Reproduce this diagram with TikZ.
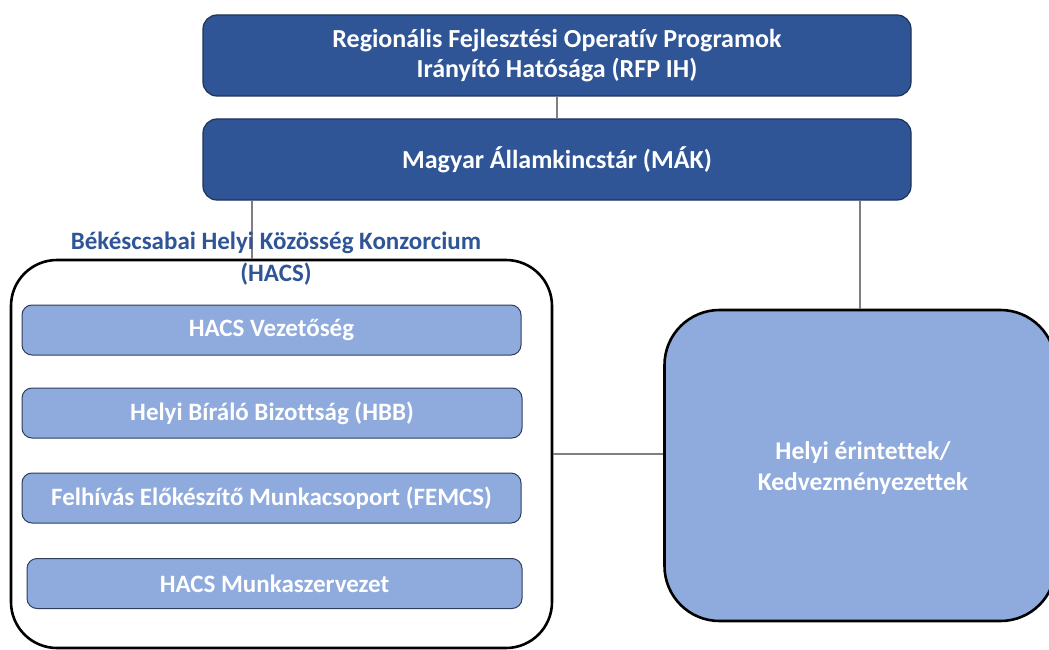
\documentclass[tikz,border=0pt]{standalone}
\usepackage{fontspec}
\setmainfont{Carlito}[Ligatures=NoCommon]
\definecolor{darkblue}{HTML}{2F5597}
\definecolor{darkedge}{HTML}{1F3358}
\definecolor{lightblue}{HTML}{8FAADC}
\definecolor{lightedge}{HTML}{2E3E5C}
\definecolor{linkgray}{HTML}{7F7F7F}
\definecolor{titleblue}{HTML}{2F5597}
\tikzset{
  topbox/.style={draw=darkedge, line width=1.2pt, fill=darkblue, rounded corners=14pt,
    minimum width=708pt, minimum height=81pt, text=white, align=center,
    font=\bfseries\fontsize{26}{30}\selectfont, inner sep=0pt},
  groupbox/.style={draw=black, line width=2.6pt, rounded corners=46pt,
    minimum width=541pt, minimum height=388pt, inner sep=0pt},
  subbox/.style={draw=lightedge, line width=1pt, fill=lightblue, rounded corners=10pt,
    minimum height=50pt, text=white, font=\bfseries\fontsize{25}{28}\selectfont, inner sep=0pt},
  bigbox/.style={draw=black, line width=2.6pt, fill=lightblue, rounded corners=55pt,
    minimum width=391pt, minimum height=311pt, text=white, align=center,
    font=\bfseries\fontsize{25.5}{31}\selectfont, inner sep=0pt},
  grouptitle/.style={text=titleblue, align=center, font=\bfseries\fontsize{25}{32}\selectfont, inner sep=0pt},
  link/.style={draw=linkgray, line width=2pt},
}
\begin{document}
\begin{tikzpicture}[x=1pt,y=-1pt]
\useasboundingbox (0,0) rectangle (1049,650);
\node[topbox] (rfp) at (557,55.5) {Regionális Fejlesztési Operatív Programok\\Irányító Hatósága (RFP IH)};
\node[topbox] (mak) at (557,159.5) {Magyar Államkincstár (MÁK)};
\node[groupbox] (hacs) at (281.5,454) {};
\node[bigbox] (erint) at (860,465.5) {};
\node[text=white, align=center, font=\bfseries\fontsize{25.5}{31}\selectfont, inner sep=0pt] (erintlabel) at (863,468) {Helyi érintettek/\\Kedvezményezettek};
\node[subbox, minimum width=499pt] (b1) at (271.5,330) {HACS Vezetőség};
\node[subbox, minimum width=500pt] (b2) at (272,413) {Helyi Bíráló Bizottság (HBB)};
\node[subbox, minimum width=499pt] (b3) at (271.5,498) {Felhívás Előkészítő Munkacsoport (FEMCS)};
\node[subbox, minimum width=495pt] (b4) at (274.5,583.5) {HACS Munkaszervezet};
\draw[link] (rfp) -- (mak);
\draw[link] ([xshift=-305pt]mak.south) -- ([xshift=-305pt]mak.south |- hacs.north);
\draw[link] (mak.south -| erint.north) -- (erint.north);
\draw[link] (hacs.east) -- (hacs.east -| erint.west);
\node[grouptitle] (title) at (276,259) {Békéscsabai Helyi Közösség Konzorcium\\(HACS)};
\end{tikzpicture}
\end{document}
